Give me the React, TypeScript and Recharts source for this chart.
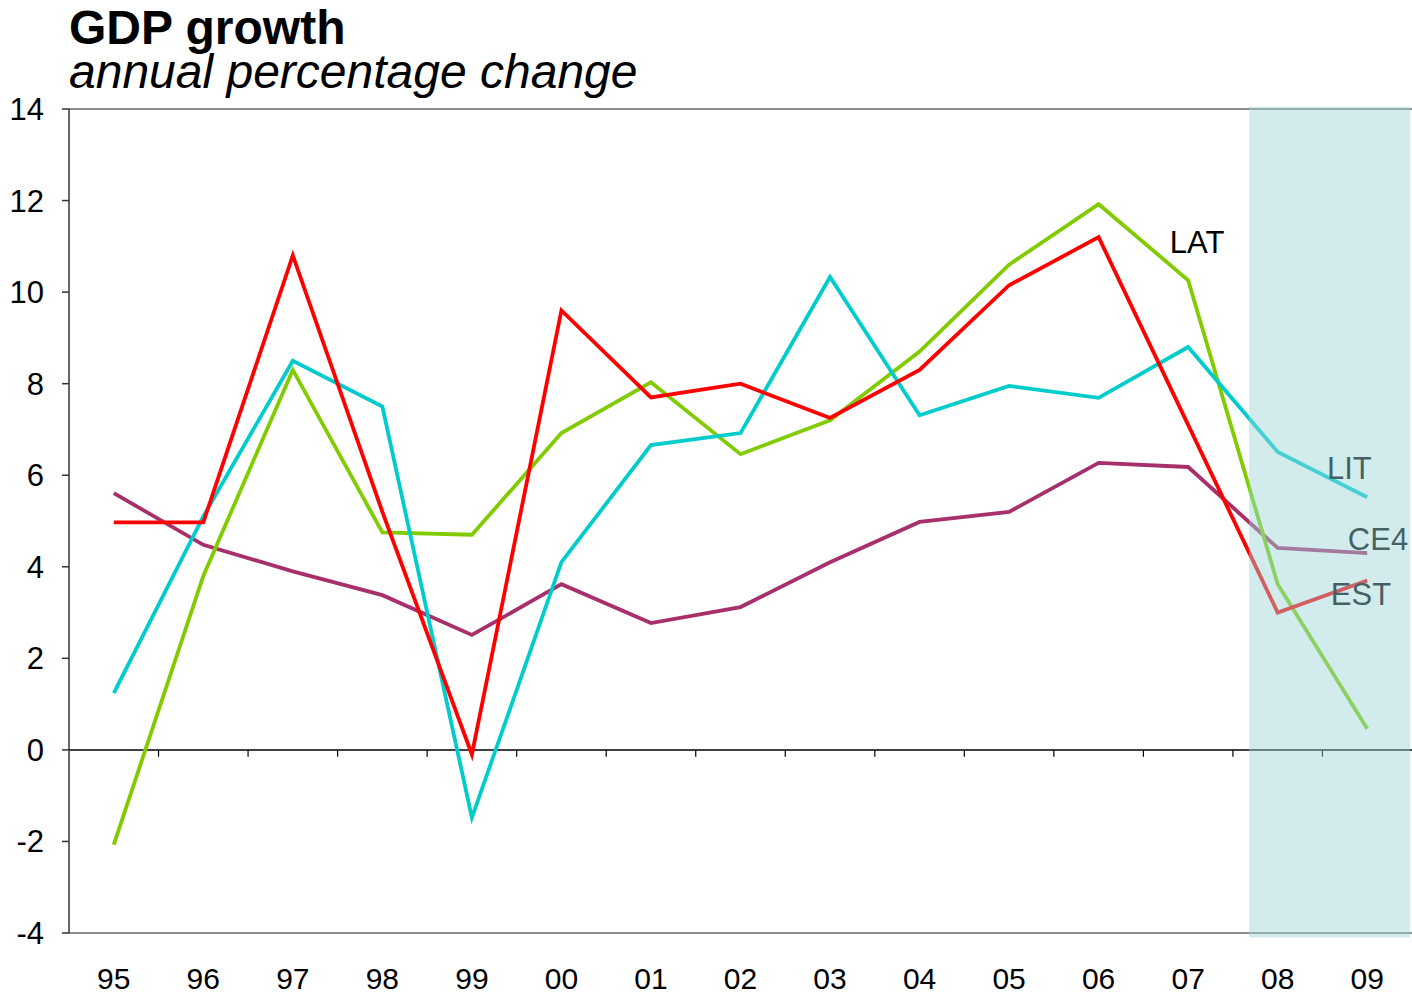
import React from 'react';
import { LineChart, Line, XAxis, YAxis, ReferenceArea, ReferenceLine, ReferenceDot } from 'recharts';

const years = ['95', '96', '97', '98', '99', '00', '01', '02', '03', '04', '05', '06', '07', '08', '09'];
const est = [4.97, 4.97, 10.8, 5.2, -0.1, 9.6, 7.7, 8.0, 7.25, 8.3, 10.15, 11.2, 7.1, 3.0, 3.7];
const lat = [-2.07, 3.8, 8.3, 4.75, 4.7, 6.92, 8.03, 6.46, 7.2, 8.7, 10.6, 11.92, 10.26, 3.62, 0.46];
const lit = [1.24, 5.1, 8.5, 7.5, -1.48, 4.1, 6.66, 6.92, 10.33, 7.31, 7.95, 7.69, 8.8, 6.51, 5.52];
const ce4 = [5.61, 4.48, 3.9, 3.38, 2.51, 3.62, 2.77, 3.12, 4.1, 4.98, 5.2, 6.27, 6.18, 4.41, 4.3];
const yTicks = [-4, -2, 0, 2, 4, 6, 8, 10, 12, 14];
const forecastFrom = 12.68;
const forecastTo = 14.48;
const seriesLabels = [
  { name: 'LAT', x: 12.1, y: 11.1, color: '#000000' },
  { name: 'LIT', x: 13.8, y: 6.15, color: '#000000' },
  { name: 'CE4', x: 14.12, y: 4.6, color: '#000000' },
  { name: 'EST', x: 13.93, y: 3.4, color: '#000000' },
];

const data = years.map((y, i) => ({ idx: i, year: y, est: est[i], lat: lat[i], lit: lit[i], ce4: ce4[i] }));
const boundaries = years.slice(1).map((_, i) => i + 0.5);

const FONT = '"Liberation Sans", Arial, sans-serif';

export default function App() {
  return (
    <div style={{ position: 'absolute', left: 0, top: 0, width: 1412, height: 996, background: '#fff', fontFamily: FONT, overflow: 'hidden' }}>
      <div style={{ position: 'absolute', left: 0, top: 0 }}>
        <LineChart width={1412} height={996} data={data} margin={{ top: 109, right: 0, bottom: 0, left: 0 }} style={{ fontFamily: FONT }}>
          <XAxis
            dataKey="idx"
            type="number"
            domain={[-0.5, 14.5]}
            ticks={years.map((_, i) => i)}
            interval={0}
            tickFormatter={(v: number) => years[v]}
            height={63}
            tickSize={0}
            tickMargin={35}
            tickLine={false}
            axisLine={{ stroke: '#8c8c8c', strokeWidth: 2 }}
            tick={{ fontSize: 30, fill: '#000', fontFamily: FONT }}
          />
          <YAxis
            domain={[-4, 14]}
            ticks={yTicks}
            interval={0}
            width={69}
            tickSize={7}
            tickMargin={18}
            axisLine={{ stroke: '#333', strokeWidth: 1.5 }}
            tickLine={{ stroke: '#333', strokeWidth: 1.5 }}
            tick={{ fontSize: 31, fill: '#000', fontFamily: FONT }}
          />
          <ReferenceLine y={14} stroke="#8c8c8c" strokeWidth={2} />
          <ReferenceLine y={0} stroke="#000" strokeWidth={1.5} />
          {boundaries.map((b) => (
            <ReferenceLine key={b} segment={[{ x: b, y: 0 }, { x: b, y: -0.15 }]} stroke="#000" strokeWidth={1.2} />
          ))}
          <Line dataKey="ce4" stroke="#a8306a" strokeWidth={3.8} dot={false} isAnimationActive={false} />
          <Line dataKey="lat" stroke="#80cc00" strokeWidth={3.8} dot={false} isAnimationActive={false} />
          <Line dataKey="lit" stroke="#00cccc" strokeWidth={3.8} dot={false} isAnimationActive={false} />
          <Line dataKey="est" stroke="#ff0000" strokeWidth={3.8} dot={false} isAnimationActive={false} />
          {seriesLabels.map((l) => (
            <ReferenceDot
              key={l.name}
              x={l.x}
              y={l.y}
              r={0}
              fill="none"
              stroke="none"
              label={{ value: l.name, position: 'center', fill: l.color, fontSize: 31, fontFamily: FONT }}
            />
          ))}
          <ReferenceArea
            x1={forecastFrom}
            x2={forecastTo}
            y1={-4.1}
            y2={14.05}
            ifOverflow="visible"
            fill="#9bd5d9"
            fillOpacity={0.45}
            stroke="none"
            zIndex={2500}
          />
        </LineChart>
      </div>
      <div style={{ position: 'absolute', left: 69, top: 4, fontSize: 48, fontWeight: 'bold', lineHeight: '48px', color: '#000', whiteSpace: 'nowrap' }}>GDP growth</div>
      <div style={{ position: 'absolute', left: 69, top: 48, fontSize: 48, fontStyle: 'italic', lineHeight: '48px', color: '#000', whiteSpace: 'nowrap' }}>annual percentage change</div>
    </div>
  );
}
